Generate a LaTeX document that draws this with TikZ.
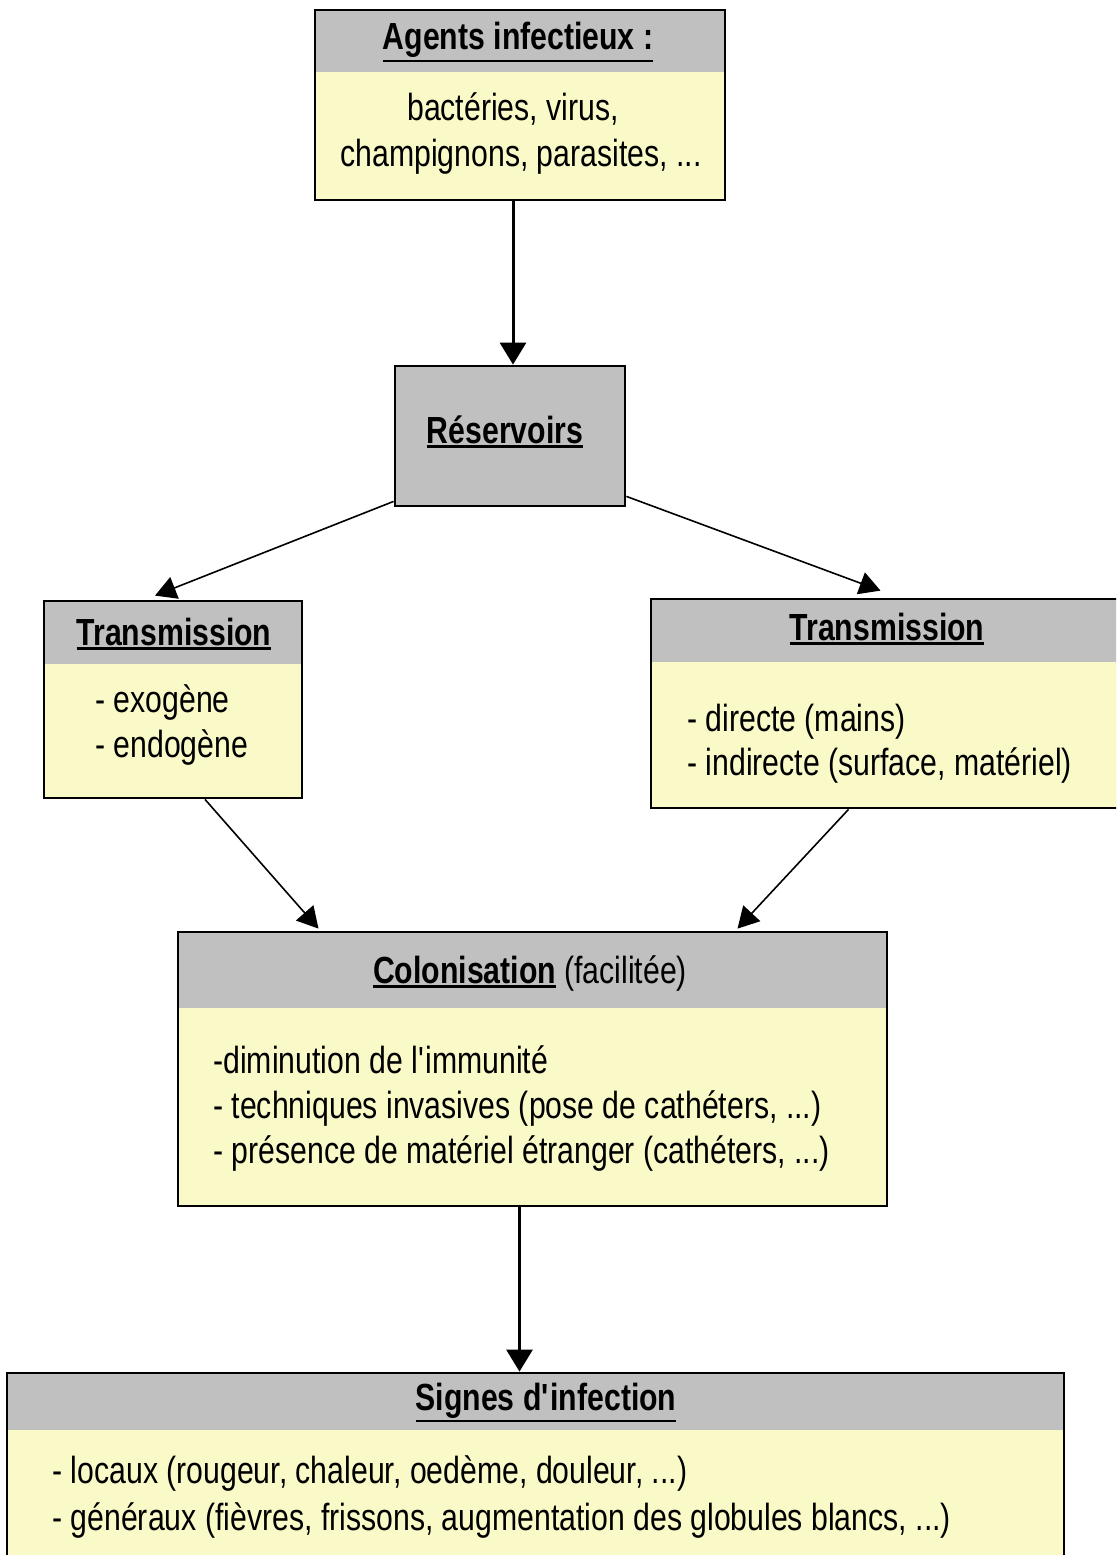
\documentclass[tikz,border=0pt]{standalone}
\usepackage{fontspec}
\setmainfont{Liberation Sans}[FakeStretch=0.8]
\usetikzlibrary{arrows.meta,calc}
\newlength{\px}
\setlength{\px}{0.02cm}
\definecolor{headgrey}{rgb}{0.752941, 0.752941, 0.752941}
\definecolor{bodyyellow}{rgb}{0.980392, 0.980392, 0.784314}
% underline a heading with a thick rule
\newcommand{\headul}[1]{\setbox0=\hbox{#1}\rlap{\rule[\dimexpr-\dp0-2.5pt\relax]{\wd0}{1.6pt}}\box0\relax}

\begin{document}
\begin{tikzpicture}[x=\px,y=-\px,
  boxshape/.style={draw=black,line width=2.8\px,fill=bodyyellow,inner sep=0pt},
  headband/.style={path picture={\fill[headgrey] (path picture bounding box.north west) rectangle ([yshift=-#1\px]path picture bounding box.north east);}},
  headtext/.style={font=\bfseries\fontsize{21.5}{25}\selectfont,inner sep=0pt,anchor=base},
  bodytext/.style={font=\fontsize{21.5}{25}\selectfont,inner sep=0pt,anchor=base west},
  arrowthick/.style={line width=3\px,-{Triangle[length=0.44cm,width=0.52cm]}},
  arrowthin/.style={line width=1.6\px,-{Triangle[length=0.42cm,width=0.46cm]}}]
\useasboundingbox (0,0) rectangle (1116,1555);
\fill[white] (0,0) rectangle (1116,1555);
\clip (0,0) rectangle (1116,1555);
% boxes
\node[boxshape,headband=62,minimum width=410\px,minimum height=190\px] (agents) at (520,105) {};
\node[boxshape,fill=headgrey,minimum width=230\px,minimum height=140\px] (reserv) at (510,436) {};
\node[boxshape,headband=63,minimum width=258\px,minimum height=197\px] (transL) at (173,699.5) {};
\node[boxshape,headband=63,minimum width=479\px,minimum height=209\px] (transR) at (890.5,703.5) {};
\node[boxshape,headband=76,minimum width=709\px,minimum height=274\px] (colon) at (532.5,1069) {};
\node[boxshape,headband=57,minimum width=1057\px,minimum height=207\px] (signes) at (535.5,1476.5) {};
% texts
\node[headtext] (agentsT) at (518,50) {\headul{Agents infectieux :}};
\node[bodytext,anchor=base] (agentsA) at (513,120) {bactéries, virus,};
\node[bodytext,anchor=base] (agentsB) at (521,166) {champignons, parasites, ...};
\node[headtext] (reservT) at (505,443) {\headul{Réservoirs}};
\node[headtext] (transLT) at (174,645) {\headul{Transmission}};
\node[bodytext] (transLA) at (95,712) {- exogène};
\node[bodytext] (transLB) at (95,757) {- endogène};
\node[headtext] (transRT) at (887,640) {\headul{Transmission}};
\node[bodytext] (transRA) at (687,731) {- directe (mains)};
\node[bodytext] (transRB) at (687,775) {- indirecte (surface, matériel)};
\node[headtext] (colonT) at (530,983) {\headul{Colonisation} {\mdseries(facilitée)}};
\node[bodytext] (colonA) at (213,1073) {-diminution de l\textquotesingle immunité};
\node[bodytext] (colonB) at (213,1118) {- techniques invasives (pose de cathéters, ...)};
\node[bodytext] (colonC) at (213,1163) {- présence de matériel étranger (cathéters, ...)};
\node[headtext] (signesT) at (546,1410) {\headul{Signes d\textquotesingle infection}};
\node[bodytext] (signesA) at (52,1483) {- locaux (rougeur, chaleur, oedème, douleur, ...)};
\node[bodytext] (signesB) at (52,1530) {- généraux (fièvres, frissons, augmentation des globules blancs, ...)};
% connectors
\draw[arrowthick] ($(agents.south)+(-7,0)$) -- ($(reserv.north)+(3,0)$);
\draw[arrowthin] ($(reserv.south west)+(0,-6)$) -- ($(transL.north)+(-18,-4)$);
\draw[arrowthin] ($(reserv.south east)+(0,-11)$) -- ($(transR.north)+(-10,-7)$);
\draw[arrowthin] ($(transL.south)+(32,0)$) -- ($(colon.north)+(-214,-2)$);
\draw[arrowthin] ($(transR.south)+(-42,0)$) -- ($(colon.north)+(205,-2)$);
\draw[arrowthick] ($(colon.south)+(-13,0)$) -- ($(signes.north)+(-16,0)$);
\end{tikzpicture}
\end{document}
